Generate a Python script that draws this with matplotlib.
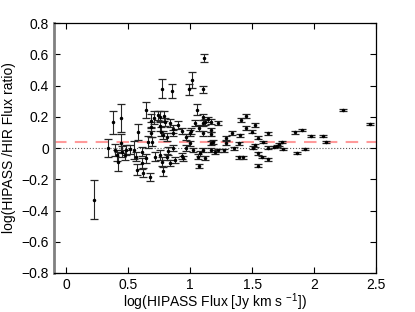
import numpy as np
import matplotlib.pyplot as plt

plt.rcParams['font.family'] = ['Liberation Sans', 'DejaVu Sans']
plt.rcParams['mathtext.fontset'] = 'custom'
plt.rcParams['mathtext.rm'] = 'Liberation Sans'
plt.rcParams['mathtext.default'] = 'regular'

# log HIPASS flux, log(HIPASS/HIR) ratio, error on the ratio
logflux = np.array([
    0.22, 0.34, 0.38, 0.39, 0.41, 0.42, 0.445, 0.445, 0.453, 0.47,
    0.48, 0.51, 0.544, 0.566, 0.571, 0.579, 0.61, 0.614, 0.62, 0.64,
    0.647, 0.66, 0.673, 0.68, 0.687, 0.687, 0.69, 0.714, 0.71, 0.74,
    0.754, 0.76, 0.76, 0.768, 0.77, 0.775, 0.78, 0.78, 0.787, 0.795,
    0.81, 0.813, 0.82, 0.835, 0.84, 0.85, 0.862, 0.862, 0.862, 0.875,
    0.90, 0.93, 0.93, 0.94, 0.97, 0.97, 0.99, 0.997, 0.997, 1.01,
    1.015, 1.02, 1.037, 1.056, 1.064, 1.07, 1.072, 1.08, 1.10, 1.10,
    1.105, 1.11, 1.105, 1.105, 1.118, 1.12, 1.145, 1.17, 1.17, 1.17,
    1.17, 1.17, 1.185, 1.2, 1.225, 1.225, 1.27, 1.29, 1.29, 1.34,
    1.35, 1.39, 1.39, 1.40, 1.41, 1.43, 1.45, 1.45, 1.50, 1.51,
    1.52, 1.52, 1.55, 1.55, 1.55, 1.58, 1.59, 1.63, 1.63, 1.63,
    1.68, 1.70, 1.72, 1.74, 1.75, 1.85, 1.86, 1.90, 1.93, 1.975,
    2.07, 2.10, 2.236, 2.45])
ratio = np.array([
    -0.33, 0.00, 0.165, -0.013, -0.045, -0.088, 0.19, 0.03, -0.024, -0.045,
    -0.013, -0.008, -0.013, -0.056, -0.14, 0.104, -0.024, -0.098, -0.158, 0.245,
    -0.066, 0.04, -0.184, 0.175, 0.136, 0.098, 0.04, -0.056, 0.195, 0.21,
    0.14, 0.20, -0.045, 0.104, 0.38, -0.088, -0.15, 0.083, 0.205, 0.168,
    0.072, -0.056, -0.02, -0.098, 0.158, 0.365, 0.12, 0.094, -0.002, -0.075,
    0.147, 0.11, -0.05, -0.066, 0.072, -0.002, 0.375, 0.094, 0.03, 0.11,
    0.435, -0.013, 0.158, 0.245, -0.056, -0.113, 0.126, -0.034, 0.20, -0.013,
    0.375, 0.578, 0.158, 0.094, 0.168, -0.066, 0.184, 0.168, 0.115, 0.09,
    0.03, -0.013, 0.04, -0.024, 0.162, -0.013, -0.013, 0.062, 0.03, 0.094,
    -0.002, 0.03, -0.06, 0.083, 0.179, -0.06, 0.205, 0.13, 0.104, 0.002,
    0.147, 0.019, 0.066, -0.034, -0.113, -0.056, 0.04, 0.094, 0.002, -0.072,
    0.008, 0.013, 0.024, 0.04, -0.006, 0.10, -0.034, 0.115, -0.006, 0.079,
    0.079, 0.038, 0.243, 0.154])
err = np.array([
    0.125, 0.06, 0.075, 0.04, 0.035, 0.06, 0.09, 0.06, 0.035, 0.03,
    0.03, 0.03, 0.06, 0.03, 0.035, 0.05, 0.03, 0.035, 0.03, 0.05,
    0.03, 0.04, 0.025, 0.04, 0.03, 0.03, 0.03, 0.03, 0.04, 0.03,
    0.03, 0.035, 0.03, 0.03, 0.06, 0.03, 0.03, 0.025, 0.03, 0.025,
    0.025, 0.02, 0.025, 0.02, 0.025, 0.045, 0.025, 0.02, 0.02, 0.02,
    0.025, 0.02, 0.02, 0.015, 0.02, 0.02, 0.035, 0.02, 0.015, 0.02,
    0.05, 0.015, 0.02, 0.035, 0.015, 0.012, 0.02, 0.015, 0.02, 0.015,
    0.025, 0.025, 0.02, 0.015, 0.02, 0.012, 0.015, 0.015, 0.015, 0.015,
    0.012, 0.012, 0.012, 0.012, 0.012, 0.01, 0.01, 0.012, 0.012, 0.012,
    0.01, 0.01, 0.008, 0.01, 0.012, 0.008, 0.015, 0.012, 0.01, 0.01,
    0.012, 0.01, 0.01, 0.008, 0.008, 0.008, 0.008, 0.01, 0.008, 0.008,
    0.008, 0.008, 0.008, 0.008, 0.006, 0.008, 0.006, 0.008, 0.006, 0.006,
    0.006, 0.005, 0.004, 0.004])

mean_ratio = 0.04

fig = plt.figure(figsize=(4.15, 3.12), dpi=100)
ax = fig.add_axes([0.130, 0.125, 0.776, 0.801])

ax.axhline(0, color='0.35', ls=':', lw=0.8, zorder=1)
ax.axhline(mean_ratio, color='#ff9a9a', ls=(0, (6, 4)), lw=1.5, zorder=1)

eb = ax.errorbar(logflux, ratio, yerr=err, fmt='.', color='k', ms=3,
                 ecolor='0.15', elinewidth=0.8, capsize=2.8, capthick=0.9,
                 zorder=3)
for cap in eb[1]:
    cap.set_color('0.45')

ax.set_xlim(-0.1, 2.5)
ax.set_ylim(-0.8, 0.8)
ax.set_xticks([0, 0.5, 1, 1.5, 2, 2.5])
ax.set_xticklabels(['0', '0.5', '1', '1.5', '2', '2.5'])
ax.set_yticks(np.arange(-0.8, 0.81, 0.2))
ax.set_yticklabels(['\u22120.8', '\u22120.6', '\u22120.4', '\u22120.2', '0',
                    '0.2', '0.4', '0.6', '0.8'])
ax.tick_params(direction='in', top=True, right=True, length=4, labelsize=10)
for s in ['top', 'right', 'bottom']:
    ax.spines[s].set_linewidth(0.9)
ax.spines['left'].set_color('0.5')
ax.spines['left'].set_linewidth(2)

ax.set_xlabel(r'log(HIPASS Flux [Jy km s $^{-1}$])', fontsize=10,
              labelpad=0)
ax.set_ylabel('log(HIPASS /HIR Flux ratio)', fontsize=10)

fig.savefig('out.png', dpi=100)
